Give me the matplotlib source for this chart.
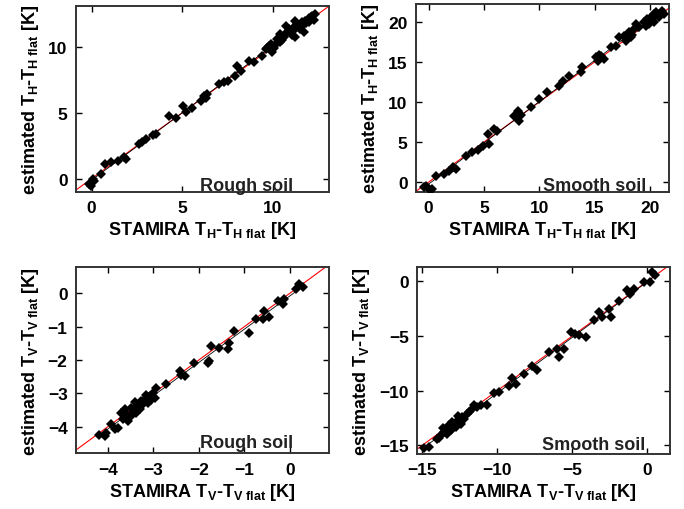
import numpy as np
import matplotlib
matplotlib.use("Agg")
import matplotlib.pyplot as plt

plt.rcParams['font.family'] = ['Liberation Sans', 'DejaVu Sans']
plt.rcParams['font.weight'] = 'bold'
plt.rcParams['mathtext.fontset'] = 'custom'
plt.rcParams['mathtext.rm'] = 'Liberation Sans:bold'
plt.rcParams['mathtext.it'] = 'Liberation Sans:bold'
plt.rcParams['mathtext.bf'] = 'Liberation Sans:bold'
plt.rcParams['mathtext.default'] = 'rm'

# Rough soil, H polarisation (STAMIRA vs estimated)
rough_h_x = [-0.13, 0.06, 0.52, 0.75, 1.07, 1.43, 1.80, 1.89, 2.63, 2.99, 3.54, 4.28, 4.64,
             5.05, 5.20, 5.56, 6.02, 6.20, 6.39, 7.03, 7.30, 7.54, 7.91, 8.04, 8.22, 8.68,
             8.96, 9.42, 9.60, 9.78, 9.97, 10.15, 10.24, 10.42, 10.61, 10.79, 10.88, 11.03,
             11.16, 11.25, 11.34, 11.52, 11.62, 11.80, 11.98, 12.17, 12.35, 11.71, 10.70,
             10.37, 11.25, 11.98, -0.05, 0.15, 2.80, 3.40, 6.30, 9.70, 9.90, 10.05, 10.50,
             10.95, 11.40, 11.10, 11.55, 11.85, 12.10, 12.25]
rough_h_y = [-0.40, -0.02, 0.36, 1.12, 1.29, 1.37, 1.62, 1.49, 2.63, 3.01, 3.39, 4.79, 4.58,
             5.55, 5.09, 5.34, 5.93, 6.25, 6.43, 7.19, 7.37, 7.44, 7.82, 8.58, 8.20, 8.96,
             8.89, 9.34, 9.85, 10.05, 9.60, 10.23, 10.61, 10.35, 10.74, 11.12, 11.37, 10.91,
             11.49, 10.74, 11.75, 11.37, 11.87, 12.00, 12.18, 12.38, 12.51, 11.12, 11.62,
             10.99, 12.00, 11.87, -0.55, -0.20, 2.75, 3.30, 6.10, 9.95, 10.20, 9.90, 10.55,
             11.10, 11.60, 11.20, 11.55, 11.80, 12.25, 12.05]

# Smooth soil, H polarisation
smooth_h_x = [-0.40, 0.05, -0.25, 0.65, 1.41, 1.86, 2.16, 2.46, 3.36, 3.96, 4.42, 4.87, 5.41,
              5.32, 5.92, 6.22, 7.72, 8.03, 8.18, 9.23, 9.98, 10.73, 11.79, 12.09, 12.69,
              13.74, 13.89, 15.10, 15.25, 15.55, 15.85, 16.45, 16.90, 17.20, 17.65, 17.80,
              18.11, 18.56, 18.71, 19.01, 19.46, 19.76, 20.06, 20.36, 20.51, 21.11, 21.26,
              19.91, 20.36, 18.25, 0.30, 8.30, 15.40, 18.40, 18.90, 19.60, 20.20, 20.80]
smooth_h_y = [-0.63, -0.84, -0.42, 0.82, 1.03, 1.44, 1.86, 1.65, 3.31, 3.73, 4.02, 4.56, 4.77,
              6.01, 6.63, 6.43, 8.29, 8.92, 7.67, 9.33, 10.37, 11.20, 12.03, 12.65, 13.27,
              13.69, 14.31, 15.56, 15.14, 15.77, 15.35, 16.80, 17.01, 18.05, 18.26, 17.63,
              18.67, 19.09, 19.71, 19.29, 19.92, 20.33, 20.62, 20.95, 21.16, 21.29, 20.95,
              19.71, 19.92, 18.05, -0.85, 8.40, 15.90, 18.40, 19.40, 19.50, 20.30, 20.60]

# Rough soil, V polarisation
rough_v_x = [-4.07, -4.03, -3.85, -3.78, -3.67, -3.59, -3.56, -3.48, -3.45, -3.37, -3.34, -3.30,
             -3.26, -3.23, -3.19, -3.12, -3.08, -3.01, -2.94, -2.97, -2.72, -2.42, -2.31, -2.10,
             -1.80, -1.77, -1.73, -1.55, -1.36, -1.33, -1.22, -0.89, -0.74, -0.60, -0.56, -0.45,
             -0.27, -0.16, -0.12, 0.13, 0.21, 0.28, -3.92, -3.63, -3.41, -4.20, -3.70, -3.50,
             -3.40, -3.15, -3.05, -2.40]
rough_v_y = [-4.28, -4.18, -4.08, -4.03, -3.78, -3.63, -3.83, -3.68, -3.53, -3.58, -3.38, -3.48,
             -3.23, -3.33, -3.18, -3.28, -3.08, -2.98, -2.83, -3.13, -2.73, -2.33, -2.48, -2.08,
             -2.08, -2.03, -1.58, -1.63, -1.68, -1.48, -1.13, -1.18, -0.78, -0.78, -0.52, -0.72,
             -0.22, -0.32, -0.17, 0.13, 0.28, 0.18, -3.93, -3.48, -3.43, -4.25, -3.60, -3.45,
             -3.25, -3.05, -3.20, -2.45]

# Smooth soil, V polarisation
smooth_v_x = [-14.55, -13.77, -13.55, -13.44, -13.22, -13.11, -13.00, -12.77, -12.66, -12.44,
              -12.33, -12.00, -11.77, -11.55, -11.33, -11.11, -10.66, -10.22, -9.89, -9.00,
              -8.77, -8.22, -7.66, -7.33, -6.55, -5.99, -5.88, -5.55, -5.11, -4.55, -4.11,
              -3.55, -3.22, -3.00, -2.55, -2.44, -1.88, -1.33, -1.11, -0.88, -0.22, 0.22,
              0.33, 0.56, -14.00, -13.33, -12.88, -12.22, -14.90, -13.90, -13.60, -13.00,
              -12.60, -11.90, -9.20, -4.80]
smooth_v_y = [-15.16, -14.09, -13.79, -13.48, -13.18, -13.63, -12.87, -13.33, -12.72, -13.02,
              -12.41, -12.11, -11.80, -11.35, -11.50, -11.35, -11.35, -10.22, -10.13, -8.81,
              -9.36, -8.45, -7.78, -8.14, -6.47, -6.16, -6.92, -6.16, -4.64, -4.94, -5.09,
              -3.57, -2.81, -3.26, -2.50, -3.26, -1.83, -0.82, -1.13, -0.67, -0.06, -0.06,
              0.85, 0.55, -14.40, -13.94, -13.18, -12.57, -15.30, -14.30, -13.40, -13.50,
              -12.30, -12.00, -9.60, -4.80]

panels = [
    (rough_h_x, rough_h_y, (-0.87, 13.1), (-1.0, 13.1), [0, 5, 10], [0, 5, 10], 'H', 'Rough soil',
     [0.111, 0.622, 0.370, 0.364], 0.86, 0.012),
    (smooth_h_x, smooth_h_y, (-1.15, 21.7), (-1.2, 22.2), [0, 5, 10, 15, 20], [0, 5, 10, 15, 20],
     'H', 'Smooth soil', [0.608, 0.622, 0.370, 0.368], 0.91, 0.012),
    (rough_v_x, rough_v_y, (-4.7, 0.86), (-4.8, 0.78), [-4, -3, -2, -1, 0], [-4, -3, -2, -1, 0],
     'V', 'Rough soil', [0.111, 0.109, 0.370, 0.365], 0.86, 0.037),
    (smooth_v_x, smooth_v_y, (-15.35, 1.55), (-15.8, 1.3), [-15, -10, -5, 0], [-15, -10, -5, 0],
     'V', 'Smooth soil', [0.610, 0.108, 0.370, 0.366], 0.90, 0.027),
]

fig = plt.figure(figsize=(6.84, 5.1), dpi=100)

for xs, ys, xlim, ylim, xt, yt, pol, name, pos, tx, ty in panels:
    ax = fig.add_axes(pos)
    xs = np.array(xs)
    ys = np.array(ys)
    # 1:1 line
    lo = min(xlim[0], ylim[0])
    hi = max(xlim[1], ylim[1])
    ax.plot([lo, hi], [lo, hi], color='red', lw=0.8, zorder=1)
    # fit line through the points
    p = np.polyfit(xs, ys, 1)
    fx = np.array([xs.min(), xs.max()])
    ax.plot(fx, np.polyval(p, fx), color='black', lw=0.6, zorder=2)
    ax.plot(xs, ys, 'D', color='black', ms=4.6, mew=0, zorder=3)
    ax.set_xlim(xlim)
    ax.set_ylim(ylim)
    ax.set_xticks(xt)
    ax.set_yticks(yt)
    ax.tick_params(direction='in', top=True, right=True, length=4, width=1,
                   labelsize=12.5, pad=6)
    for s in ax.spines.values():
        s.set_linewidth(1.4)
        s.set_color('#333333')
    ax.set_xlabel('STAMIRA T$_{' + pol + '}$-T$_{' + pol + '\\ flat}$ [K]',
                  fontsize=13, fontweight='bold', labelpad=3)
    ax.set_ylabel('estimated T$_{' + pol + '}$-T$_{' + pol + '\\ flat}$ [K]',
                  fontsize=13, fontweight='bold', labelpad=5)
    ax.text(tx, ty, name, transform=ax.transAxes, ha='right', va='baseline',
            fontsize=13, fontweight='bold', color='#222222')

fig.savefig('out.png', dpi=100)
